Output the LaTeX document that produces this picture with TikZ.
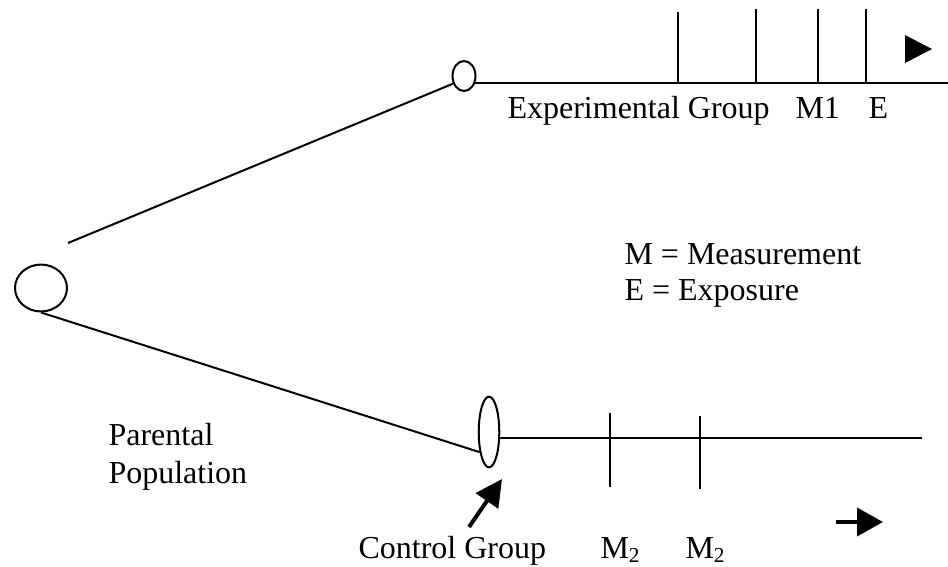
\documentclass[tikz,border=0pt]{standalone}
\usepackage{fontspec}
\setmainfont{Liberation Serif}
\usetikzlibrary{arrows.meta,shapes.geometric,positioning}

\tikzset{
  popl/.style     = {draw, ellipse, line width=0.75pt, inner sep=0pt},
  branch/.style   = {draw, line width=0.75pt},
  tickmark/.style = {draw, line width=0.75pt},
  lbl/.style      = {font=\fontsize{12}{14}\selectfont, inner sep=0pt,
                     anchor=base west},
  fatarrow/.style = {-{Triangle[length=10pt,width=10pt]}, line width=1.5pt},
}

\begin{document}
\begin{tikzpicture}[x=0.375pt, y=-0.375pt]
  \useasboundingbox (0,0) rectangle (948,566);

  % ---- populations ------------------------------------------------------
  \node[popl, minimum width=19.5pt, minimum height=17.6pt] (parent) at (41,288) {};
  \node[popl, minimum width=8.6pt,  minimum height=11.25pt] (expgrp) at (464,76) {};
  \node[popl, minimum width=7.7pt,  minimum height=26.5pt]  (ctrl)   at (489,432) {};

  \coordinate (upstart) at (68,243);
  \coordinate (expend)  at (948,83);
  \coordinate (ctrlend) at (922,438);

  % ---- branches and time lines ------------------------------------------
  \draw[branch] (upstart) -- (expgrp.215);
  \draw[branch] (parent.south) -- (ctrl.245);
  \draw[branch] (expgrp.-30) -- (expgrp.-30 -| expend);
  \draw[branch] (ctrl.-30) -- (ctrl.-30 -| ctrlend);

  \foreach \tx/\ty in {678/12, 756/9, 818/9, 866/9}
    \draw[tickmark] (\tx,\ty) -- (\tx,83);
  \foreach \tx/\ta/\tb in {610/413/487, 700/416/489}
    \draw[tickmark] (\tx,\ta) -- (\tx,\tb);

  % ---- arrows -----------------------------------------------------------
  \fill (905,35) -- (905,63) -- (932,49) -- cycle;

  \coordinate (tstart) at (836,522);
  \coordinate (tend)   at (883,522);
  \draw[fatarrow, -{Triangle[length=9.75pt,width=10.5pt]}] (tstart) -- (tend);

  \coordinate (ctrlarr) at (469,527);
  \coordinate (ctrltip) at (502,479);
  \draw[fatarrow] (ctrlarr) -- (ctrltip);

  % ---- labels -----------------------------------------------------------
  \node[lbl] (explbl)  at (507,118) {Experimental Group};
  \node[lbl] (m1lbl)   at (795,118) {M1};
  \node[lbl] (elbl)    at (868,118) {E};
  \node[lbl] (mkey)    at (624,264) {M = Measurement};
  \node[lbl] (ekey)    at (624,300) {E = Exposure};
  \node[lbl] (parlbl)  at (108,445) {Parental};
  \node[lbl] (poplbl)  at (108,483) {Population};
  \node[lbl] (ctrllbl) at (358,558) {Control Group};
  \node[lbl] (m2a)     at (600,558) {M\textsubscript{2}};
  \node[lbl] (m2b)     at (685,558) {M\textsubscript{2}};

\end{tikzpicture}
\end{document}
